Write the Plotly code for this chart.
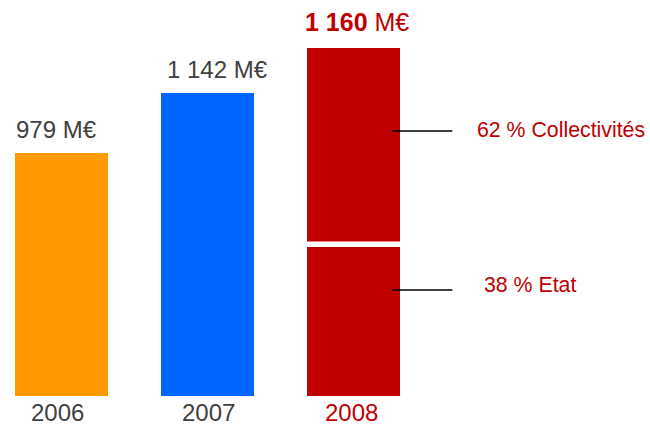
import plotly.graph_objects as go

# ---- data ----
years = ["2006", "2007", "2008"]
amounts_meur = [979, 1142, 1160]            # labelled totals (M€)
drawn_heights = [243, 303]                  # bar heights as drawn for 2006, 2007 (chart units)
split_labels = ["Etat", "Collectivités"]    # 2008 split, bottom to top
split_pct = [38, 62]
split_heights_2008 = [149, 193.5]           # drawn heights of the 2008 segments (chart units)

# ---- style ----
FONT = "Liberation Sans, Arial, sans-serif"
GRAY = "#404040"
RED = "#C00000"
COLORS = ["#FF9900", "#0066FF"]
GAP = 5.5
BAR_W = 0.637

fig = go.Figure()
fig.add_trace(go.Bar(x=years[:2], y=drawn_heights, marker_color=COLORS,
                     width=BAR_W, marker_line_width=0, hoverinfo="skip"))
fig.add_trace(go.Bar(x=[years[2]], y=[split_heights_2008[0]], base=[0],
                     marker_color=RED, width=BAR_W, marker_line_width=0, hoverinfo="skip"))
fig.add_trace(go.Bar(x=[years[2]], y=[split_heights_2008[1]],
                     base=[split_heights_2008[0] + GAP],
                     marker_color=RED, width=BAR_W, marker_line_width=0, hoverinfo="skip"))

tops = drawn_heights + [split_heights_2008[0] + GAP + split_heights_2008[1]]

ann = []
# value labels
for i, (amt, top) in enumerate(zip(amounts_meur, tops)):
    s = f"{amt:,}".replace(",", " ")
    if i == 2:
        txt = f"<b>{s}</b> M€"
        ann.append(dict(x=i, y=top, text=txt, showarrow=False, yanchor="middle",
                        yshift=26, xshift=3, font=dict(family=FONT, size=25, color=RED)))
    else:
        txt = f"{s} M€"
        ann.append(dict(x=i, y=top, text=txt, showarrow=False, yanchor="middle",
                        yshift=24, xshift=-5 if i == 0 else 10,
                        font=dict(family=FONT, size=24, color=GRAY)))
# year labels
for i, yr in enumerate(years):
    ann.append(dict(x=i, y=0, text=yr, showarrow=False, yanchor="middle", yshift=-16,
                    xshift=[-4, 1, -2][i],
                    font=dict(family=FONT, size=24, color=RED if i == 2 else GRAY)))

# side labels with leader lines
label_y = [111, 266]
line_y = [106, 265]
shapes = []
for lab, pct, ly, lny in zip(split_labels, split_pct, label_y, line_y):
    shapes.append(dict(type="line", xref="x", yref="y", x0=2 + 0.266, x1=2 + 0.677,
                       y0=lny, y1=lny, line=dict(color="#000000", width=1.3)))
    ann.append(dict(x=2 + (0.879 if pct == 38 else 0.831), y=ly, text=f"{pct} % {lab}",
                    showarrow=False, xanchor="left", yanchor="middle",
                    font=dict(family=FONT, size=21.3, color=RED)))

fig.update_layout(
    width=650, height=427, margin=dict(l=0, r=0, t=0, b=0),
    paper_bgcolor="white", plot_bgcolor="white",
    barmode="overlay", showlegend=False,
    xaxis=dict(type="category", categoryorder="array", categoryarray=years,
               range=[-0.42123, 4.03082], visible=False),
    yaxis=dict(range=[-31, 396], visible=False),
    annotations=ann, shapes=shapes,
)

fig.write_html("out.html")
